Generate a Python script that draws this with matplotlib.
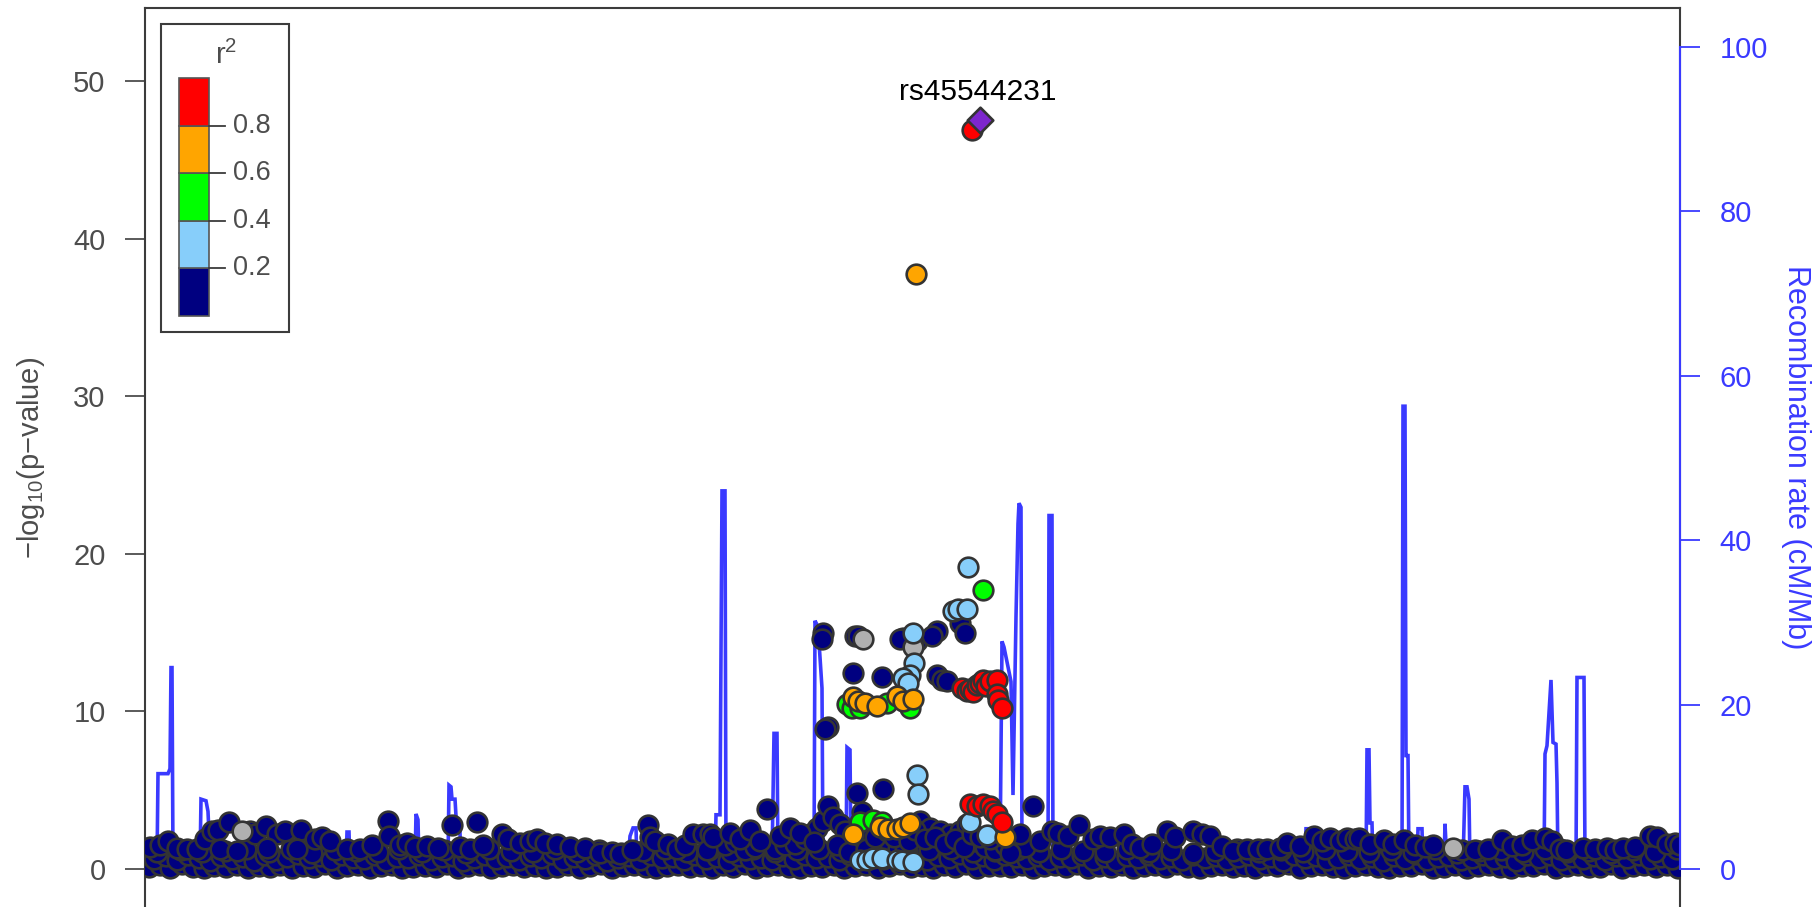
import matplotlib.pyplot as plt
from matplotlib.patches import Rectangle

plt.rcParams['font.family'] = ['Liberation Sans', 'DejaVu Sans']
plt.rcParams['mathtext.fontset'] = 'custom'
plt.rcParams['mathtext.rm'] = 'Liberation Sans'
plt.rcParams['mathtext.it'] = 'Liberation Sans:italic'

# ---- data (positions in kb within the window, -log10 p, recombination cM/Mb) ----
lead_snp = "rs45544231"
lead_pos, lead_logp = 833, 47.5

# recombination rate track
recomb_pos = [0, 10, 11, 21, 23, 24, 25, 26, 53, 54, 59, 61, 63, 113, 199, 200, 202, 203,
              268, 269, 271, 272, 301, 302, 304, 305, 308, 310, 313, 314, 413, 481, 483,
              486, 489, 490, 568, 569, 573, 575, 578, 579, 625, 627, 630, 631, 667, 668,
              671, 675, 676, 699, 700, 703, 704, 773, 853, 855, 857, 864, 866, 869, 871,
              872, 874, 875, 901, 902, 905, 906, 1053, 1158, 1159, 1163, 1164, 1219, 1220,
              1222, 1223, 1225, 1226, 1255, 1256, 1258, 1259, 1261, 1262, 1270, 1271, 1275,
              1276, 1297, 1298, 1300, 1316, 1318, 1320, 1322, 1323, 1397, 1398, 1400, 1404,
              1406, 1409, 1410, 1411, 1429, 1430, 1437, 1438, 1533]
recomb_rate = [0.5, 0.5, 11.6, 11.6, 12.2, 24.5, 24.5, 0.8, 0.8, 8.5, 8.3, 7.0, 1.5, 1.0,
               0.6, 4.5, 4.5, 0.6, 0.6, 6.7, 6.0, 0.6, 0.8, 10.2, 10.0, 8.5, 8.5, 4.4, 4.4,
               0.6, 1.0, 0.6, 4.0, 5.0, 5.0, 0.6, 0.6, 6.6, 6.6, 46.0, 46.0, 0.8, 0.8, 16.5,
               16.5, 0.8, 0.8, 30.2, 29.5, 22.0, 0.8, 0.8, 14.8, 14.5, 0.8, 1.5, 0.8, 27.7,
               27.0, 22.8, 9.0, 30.7, 42.0, 44.5, 44.0, 1.0, 0.8, 43.0, 43.0, 0.8, 0.8, 0.6,
               4.9, 4.9, 0.6, 0.6, 14.5, 14.5, 5.6, 5.6, 0.6, 0.6, 56.3, 56.3, 13.8, 13.8,
               0.6, 0.6, 4.9, 4.9, 0.6, 0.6, 5.5, 0.6, 0.6, 10.0, 10.0, 8.5, 0.6, 0.6, 14.0,
               15.0, 23.0, 15.4, 15.2, 10.5, 0.6, 0.6, 23.3, 23.3, 0.6, 0.6]

# r2 < 0.2 (navy): low band
navy_low = [(2, .12), (13, .25), (23, .06), (35, .3), (46, .15), (57, .08), (67, .22), (79, .14),
            (90, .28), (101, .05), (112, .18), (123, .1), (133, .26), (145, .07), (156, .2),
            (167, .13), (178, .3), (190, .04), (200, .17), (211, .24), (223, .09), (234, .19),
            (245, .27), (255, .06), (266, .15), (278, .22), (289, .11), (300, .29), (311, .05),
            (321, .16), (333, .23), (344, .08), (355, .18), (366, .27), (377, .1), (388, .21),
            (399, .04), (410, .14), (421, .25), (433, .09), (443, .19), (454, .3), (465, .07),
            (476, .16), (487, .24), (499, .12), (509, .05), (520, .2), (531, .28), (543, .1),
            (554, .17), (565, .06), (576, .23), (586, .14), (598, .3), (609, .08), (620, .19),
            (631, .26), (642, .11), (653, .04), (664, .21), (675, .15), (687, .28), (697, .09),
            (708, .18), (719, .24), (731, .06), (742, .16), (753, .29), (764, .12), (775, .2),
            (786, .05), (797, .25), (808, .14), (819, .3), (830, .08), (842, .19), (853, .22),
            (864, .1), (875, .27), (886, .04), (897, .17), (908, .23), (919, .13), (930, .29),
            (941, .07), (952, .2), (964, .15), (975, .26), (986, .05), (997, .18), (1008, .24),
            (1019, .1), (1030, .3), (1041, .14), (1053, .06), (1064, .21), (1075, .27),
            (1086, .12), (1097, .19), (1108, .04), (1119, .23), (1130, .16), (1142, .29),
            (1153, .08), (1164, .18), (1175, .25), (1186, .11), (1197, .05), (1208, .2),
            (1219, .28), (1231, .13), (1242, .07), (1253, .22), (1264, .17), (1275, .3),
            (1286, .09), (1297, .15), (1308, .24), (1320, .06), (1331, .19), (1342, .27),
            (1353, .12), (1364, .04), (1375, .21), (1386, .16), (1397, .29), (1409, .08),
            (1420, .18), (1431, .25), (1442, .1), (1453, .14), (1464, .3), (1475, .05),
            (1486, .2), (1497, .23), (1509, .12), (1520, .27), (1531, .09)]

navy_mid = [(7, .62), (19, .8), (30, .55), (41, .9), (52, .7), (63, .5), (74, .85), (85, .66),
            (96, .75), (107, .52), (118, .88), (129, .6), (140, .78), (151, .95), (162, .68),
            (173, .84), (184, .57), (195, .92), (206, .72), (217, .63), (228, .86), (239, .54),
            (250, .79), (261, .69), (272, .9), (284, .58), (295, .74), (306, .83), (316, .5),
            (327, .67), (338, .88), (349, .61), (360, .77), (372, .55), (383, .85), (394, .7),
            (405, .93), (416, .59), (427, .76), (438, .64), (449, .87), (460, .53), (471, .73),
            (482, .82), (493, .6), (504, .9), (515, .68), (526, .79), (537, .56), (548, .86),
            (559, .65), (570, .74), (581, .5), (592, .8), (603, .62), (614, .71), (625, .57),
            (636, .84), (647, .66), (658, .92), (669, .7), (681, .78), (692, .6), (703, .88),
            (714, .75), (725, .95), (736, .64), (747, .85), (758, .72), (769, .9), (780, .6),
            (791, .82), (802, .7), (813, .93), (825, .66), (836, .8), (847, .58), (858, .89),
            (869, .74), (880, .62), (891, .85), (902, .55), (913, .78), (924, .68), (935, .91),
            (946, .6), (958, .76), (969, .52), (980, .84), (991, .7), (1002, .88), (1013, .63),
            (1024, .79), (1035, .55), (1046, .92), (1058, .67), (1069, .81), (1080, .58),
            (1091, .74), (1102, .86), (1113, .61), (1124, .77), (1136, .5), (1147, .9),
            (1158, .69), (1169, .8), (1180, .57), (1191, .73), (1202, .87), (1213, .62),
            (1225, .78), (1236, .54), (1247, .84), (1258, .66), (1269, .93), (1280, .6),
            (1291, .75), (1302, .82), (1314, .55), (1325, .7), (1336, .88), (1347, .64),
            (1358, .79), (1369, .52), (1380, .86), (1392, .68), (1403, .9), (1414, .59),
            (1425, .76), (1436, .63), (1447, .85), (1458, .57), (1469, .8), (1480, .7),
            (1492, .92), (1503, .61), (1514, .78), (1525, .66)]

navy_upper = [(10, 1.1), (34, 1.2), (55, 1.05), (78, 1.15), (99, 1.3), (122, 1.1), (144, 1.25),
              (165, 1.0), (188, 1.2), (209, 1.15), (231, 1.05), (252, 1.3), (275, 1.1),
              (297, 1.2), (319, 1.0), (342, 1.25), (364, 1.15), (386, 1.1), (408, 1.3),
              (430, 1.05), (452, 1.2), (474, 1.0), (496, 1.15), (518, 1.3), (540, 1.1),
              (562, 1.2), (584, 1.05), (606, 1.25), (628, 1.1), (650, 1.2), (672, 1.3),
              (694, 1.15), (716, 1.05), (738, 1.25), (760, 1.1), (782, 1.2), (804, 1.3),
              (826, 1.05), (848, 1.15), (870, 1.2), (892, 1.1), (914, 1.3), (936, 1.15),
              (958, 1.05), (980, 1.25), (1002, 1.1), (1024, 1.2), (1046, 1.0), (1068, 1.15),
              (1090, 1.3), (1112, 1.05), (1134, 1.2), (1156, 1.1), (1178, 1.25), (1200, 1.15),
              (1222, 1.05), (1244, 1.2), (1266, 1.1), (1288, 1.3), (1310, 1.0), (1332, 1.15),
              (1354, 1.2), (1376, 1.05), (1398, 1.25), (1420, 1.1), (1442, 1.15), (1464, 1.0),
              (1486, 1.2), (1508, 1.1), (1530, 1.25)]

navy_top = [(3, 1.4), (13, 1.5), (21, 1.75), (30, 1.36), (40, 1.25), (50, 1.3), (58, 1.9),
            (65, 2.4), (71, 2.5), (82, 3.0), (103, 2.4), (108, 2.2), (119, 2.73), (130, 2.2),
            (138, 2.4), (154, 2.46), (73, 1.27), (90, 1.15), (120, 1.36), (150, 1.27),
            (168, 1.9), (175, 2.0), (183, 1.78), (200, 1.27), (213, 1.3), (225, 1.5),
            (241, 3.05), (242, 2.1), (253, 1.5), (260, 1.67), (268, 1.4), (280, 1.46),
            (291, 1.35), (305, 2.8), (330, 3.0), (313, 1.4), (323, 1.3), (336, 1.5),
            (355, 2.2), (361, 1.9), (373, 1.67), (383, 1.78), (390, 1.9), (398, 1.67),
            (410, 1.57), (423, 1.4), (438, 1.36), (453, 1.04), (465, 1.1), (473, 0.93),
            (485, 1.2), (501, 2.8), (503, 2.0), (508, 1.78), (521, 1.57), (530, 1.25),
            (538, 1.5), (546, 2.2), (556, 2.2), (563, 2.2), (571, 1.6), (578, 1.5), (588, 1.7),
            (598, 1.2), (608, 1.4), (620, 3.8), (628, 1.3), (638, 1.5), (648, 1.6), (658, 1.9),
            (663, 2.2), (670, 2.6), (676, 3.05), (681, 4.0), (686, 3.3), (693, 2.84),
            (698, 2.4), (705, 2.0), (710, 4.85), (715, 3.6), (723, 1.8), (736, 5.07),
            (743, 1.6), (751, 1.3), (758, 1.2), (773, 3.05), (783, 2.6), (793, 2.4), (803, 2.2),
            (813, 2.4), (820, 2.84), (828, 1.8), (838, 1.4), (848, 1.2), (858, 1.5), (868, 1.6),
            (878, 1.4), (886, 4.0), (893, 1.8), (905, 2.4), (911, 2.3), (921, 2.1), (932, 2.8),
            (946, 1.89), (953, 2.1), (963, 2.0), (977, 2.25), (985, 1.6), (993, 1.36),
            (1005, 1.57), (1020, 2.4), (1028, 2.0), (1046, 2.4), (1055, 2.2), (1063, 2.1),
            (1075, 1.46), (1086, 1.15), (1100, 1.25), (1111, 1.3), (1120, 1.25), (1133, 1.36),
            (1140, 1.64), (1153, 1.43), (1167, 2.07), (1175, 1.8), (1183, 1.97), (1193, 1.8),
            (1200, 1.97), (1208, 1.9), (1212, 1.97), (1223, 1.6), (1237, 1.86), (1246, 1.6),
            (1257, 1.86), (1268, 1.5), (1278, 1.4), (1286, 1.53), (1315, 1.2), (1328, 1.21),
            (1341, 1.3), (1355, 1.86), (1365, 1.43), (1375, 1.5), (1385, 1.86), (1398, 1.97),
            (1405, 1.75), (1413, 1.25), (1419, 1.21), (1436, 1.36), (1448, 1.3), (1460, 1.36),
            (1468, 1.2), (1476, 1.36), (1488, 1.4), (1503, 2.1), (1510, 2.0), (1520, 1.6),
            (1528, 1.67), (1533, 1.5),
            (560, 1.2), (566, 2.0), (583, 2.3), (593, 1.9), (603, 2.5), (613, 1.8), (633, 2.1),
            (643, 2.6), (653, 2.3), (667, 1.7), (690, 1.5), (702, 1.1), (712, 2.3), (719, 1.3),
            (728, 2.0), (740, 2.4), (747, 2.0), (762, 1.8), (768, 2.5), (778, 1.9), (788, 2.0),
            (798, 1.6), (808, 1.9), (817, 1.4), (825, 2.2), (833, 2.0), (843, 1.9), (853, 2.3),
            (863, 1.0), (873, 2.2),
            (676.3, 15.0), (674.7, 14.6), (708, 14.8), (711.3, 14.8), (756.3, 14.66),
            (753, 14.6), (769.7, 14.45), (789.7, 15.1), (784.7, 14.8), (813, 15.6), (818, 15.0),
            (706.3, 12.45), (734.7, 12.2), (789.7, 12.34), (794.7, 12.0), (799.7, 11.9),
            (681.3, 9.0), (678, 8.9)]

gray_snps = [(95, 2.4), (716, 14.6), (766, 14.1), (1306, 1.32)]

lightblue_snps = [(821.3, 19.17), (806.3, 16.34), (811.3, 16.5), (819.7, 16.5), (766.3, 15.0),
                  (766.8, 13.05), (763, 12.34), (756.3, 12.1), (761.3, 11.8), (769.7, 5.95),
                  (771.3, 4.79), (823, 3.0), (839.7, 2.13), (713, 0.57), (719.7, 0.57),
                  (726.3, 0.69), (734.7, 0.69), (749.7, 0.57), (754.7, 0.52), (766.3, 0.46)]

green_snps = [(836.3, 17.73), (699.7, 10.45), (704.7, 10.23), (713, 10.23), (739.7, 10.56),
              (763, 10.23), (713, 3.0), (726.3, 3.1), (734.7, 3.0)]

orange_snps = [(769, 37.75), (706.3, 10.9), (711.3, 10.68), (718, 10.56), (729.7, 10.34),
               (749.7, 11.0), (756.3, 10.68), (766.3, 10.78), (706.3, 2.24), (733, 2.68),
               (741.3, 2.57), (749.7, 2.57), (756.3, 2.68), (763, 2.9), (858, 2.0)]

red_snps = [(824.7, 46.9), (815, 11.5), (819.7, 11.3), (823, 11.45), (826.3, 11.2),
            (829.7, 11.67), (833, 11.8), (836.3, 12.0), (839, 11.6), (843, 11.9),
            (849.7, 12.0), (849.7, 11.1), (851.3, 10.7), (854.7, 10.23), (823, 4.13),
            (829.7, 4.0), (836.3, 4.13), (843, 4.0), (846.3, 3.69), (849.7, 3.46),
            (854.7, 3.0)]

ld_breaks = [0.2, 0.4, 0.6, 0.8]
ld_colors = ['#000080', '#87CEFA', '#00FF00', '#FFA500', '#FF0000']

# ---- styling ----
W, H = 1816, 907
blue = '#3A3AFF'
grey_txt = '#4D4D4D'
frame = '#3C3C3C'
edge = '#333333'

fig = plt.figure(figsize=(W / 100, H / 100), dpi=100)
ax = fig.add_axes([145 / W, 0, (1680 - 145) / W, (H - 8) / H])
ax2 = ax.twinx()
ax.set_zorder(ax2.get_zorder() + 1)
ax.patch.set_visible(False)

ax2.plot(recomb_pos, recomb_rate, color=blue, lw=2.6, solid_joinstyle='miter')

def draw(snps, color):
    xs = [p for p, _ in snps]
    ys = [v for _, v in snps]
    ax.scatter(xs, ys, s=200, c=color, edgecolors=edge, linewidths=1.9, zorder=3)

draw(navy_low, ld_colors[0])
draw(navy_mid, ld_colors[0])
draw(navy_upper, ld_colors[0])
draw(navy_top, ld_colors[0])
draw(gray_snps, '#B0B0B0')
draw(lightblue_snps, ld_colors[1])
draw(green_snps, ld_colors[2])
draw(orange_snps, ld_colors[3])
draw(red_snps, ld_colors[4])
ax.scatter([lead_pos], [lead_logp], marker='D', s=170, c='#7D26CD',
           edgecolors=edge, linewidths=1.9, zorder=4)
ax.text(lead_pos - 2, lead_logp + 1.8, lead_snp, ha='center', va='center',
        fontsize=21.5, color='black', zorder=5)

ax.set_xlim(-2, 1533)
ax.set_ylim(-2.41, 54.63)
ax2.set_ylim(-4.62, 104.74)
ax.set_xticks([])

for s in ['right', 'bottom']:
    ax.spines[s].set_visible(False)
for s in ['left', 'top', 'bottom']:
    ax2.spines[s].set_visible(False)
for sp in [ax.spines['left'], ax.spines['top'], ax2.spines['right']]:
    sp.set_color(frame)
    sp.set_linewidth(1.5)

ax.set_yticks([0, 10, 20, 30, 40, 50])
ax.tick_params(axis='y', direction='out', length=14.4, width=1.3, color=grey_txt,
               labelcolor=grey_txt, labelsize=21, pad=14)
ax2.set_yticks([0, 20, 40, 60, 80, 100])
ax2.tick_params(axis='y', direction='out', length=14.4, width=1.3, color=blue,
                labelcolor=blue, labelsize=21, pad=14)
# blue right axis line between first and last tick
ax.plot([1, 1], [0, 100], transform=ax2.get_yaxis_transform(), color=blue,
        lw=1.5, clip_on=False, zorder=6)

fig.text(31 / W, 1 - 458 / H, r'$\mathregular{-log_{10}}$(p' + '\u2212' + 'value)', rotation=90,
         ha='center', va='center', fontsize=21, color=grey_txt)
fig.text(1796 / W, 1 - 457 / H, 'Recombination rate (cM/Mb)', rotation=-90,
         ha='center', va='center', fontsize=22, color=blue)

# ---- r2 legend ----
lax = fig.add_axes([0, 0, 1, 1])
lax.set_xlim(0, W)
lax.set_ylim(H, 0)
lax.axis('off')
lax.set_zorder(10)
lax.add_patch(Rectangle((161, 24), 128, 308, facecolor='white', edgecolor=frame, lw=1.5))
bar_top, bar_bot = 78, 316
bounds = [0] + ld_breaks + [1]
for i, col in enumerate(ld_colors):
    y0 = bar_bot - bounds[i] * (bar_bot - bar_top)
    y1 = bar_bot - bounds[i + 1] * (bar_bot - bar_top)
    lax.add_patch(Rectangle((179, y1), 30, y0 - y1, facecolor=col, edgecolor='#555555', lw=1.2))
for b in ld_breaks:
    y = bar_bot - b * (bar_bot - bar_top)
    lax.plot([209, 225], [y, y], color=frame, lw=1.3)
    lax.text(233, y, f'{b:.1f}', ha='left', va='center', fontsize=19.5, color=grey_txt)
lax.text(226, 55, r'$\mathregular{r^2}$', ha='center', va='center', fontsize=21, color=grey_txt)

fig.savefig('out.png', dpi=100)
